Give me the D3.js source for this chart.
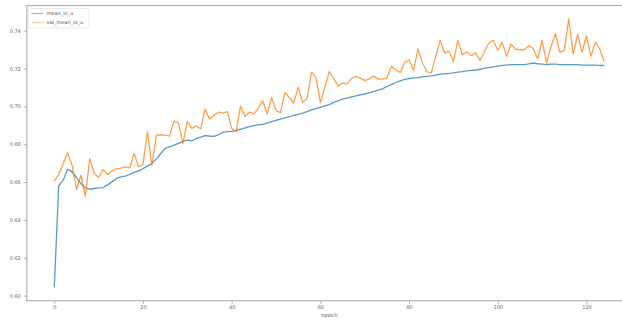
<!DOCTYPE html>
<html>
<head>
<meta charset="utf-8">
<script src="https://cdn.jsdelivr.net/npm/d3@7"></script>
<style>
	body { margin: 0; background: #fff; }
	svg { display: block; font-family: 'DejaVu Sans', sans-serif; }
</style>
</head>
<body>
<div id="chart"></div>
<script>
const seriesNames = ['mean_io_u', 'val_mean_io_u'];
const seriesColors = ['#1f77b4', '#ff7f0e'];

const meanIoU = [
	0.6044, 0.6580, 0.6610, 0.6667, 0.6654, 0.6624, 0.6592, 0.6569, 0.6562, 0.6566,
	0.6569, 0.6571, 0.6585, 0.6601, 0.6619, 0.6627, 0.6631, 0.6640, 0.6651, 0.6659,
	0.6670, 0.6684, 0.6698, 0.6721, 0.6751, 0.6778, 0.6786, 0.6795, 0.6804, 0.6815,
	0.6822, 0.6817, 0.6830, 0.6838, 0.6845, 0.6843, 0.6841, 0.6850, 0.6863, 0.6866,
	0.6868, 0.6873, 0.6879, 0.6886, 0.6893, 0.6898, 0.6902, 0.6905, 0.6912, 0.6919,
	0.6926, 0.6933, 0.6939, 0.6946, 0.6953, 0.6958, 0.6964, 0.6972, 0.6981, 0.6988,
	0.6995, 0.7002, 0.7009, 0.7021, 0.7029, 0.7038, 0.7043, 0.7050, 0.7055, 0.7061,
	0.7066, 0.7071, 0.7078, 0.7086, 0.7092, 0.7105, 0.7115, 0.7126, 0.7135, 0.7142,
	0.7147, 0.7151, 0.7152, 0.7156, 0.7158, 0.7161, 0.7165, 0.7170, 0.7172, 0.7174,
	0.7177, 0.7181, 0.7184, 0.7188, 0.7190, 0.7192, 0.7196, 0.7202, 0.7205, 0.7209,
	0.7213, 0.7216, 0.7218, 0.7220, 0.7220, 0.7221, 0.7221, 0.7225, 0.7229, 0.7225,
	0.7223, 0.7221, 0.7223, 0.7223, 0.7221, 0.7221, 0.7220, 0.7220, 0.7220, 0.7218,
	0.7218, 0.7218, 0.7218, 0.7216, 0.7216
];

const valMeanIoU = [
	0.6605, 0.6640, 0.6698, 0.6755, 0.6689, 0.6561, 0.6636, 0.6525, 0.6725, 0.6645,
	0.6624, 0.6667, 0.6640, 0.6658, 0.6670, 0.6673, 0.6680, 0.6675, 0.6751, 0.6680,
	0.6693, 0.6866, 0.6689, 0.6848, 0.6850, 0.6848, 0.6843, 0.6923, 0.6911, 0.6804,
	0.6920, 0.6884, 0.6896, 0.6880, 0.6985, 0.6933, 0.6951, 0.6969, 0.6964, 0.6972,
	0.6884, 0.6866, 0.7002, 0.6946, 0.6969, 0.6960, 0.6990, 0.7029, 0.6960, 0.7046,
	0.6977, 0.6967, 0.7073, 0.7046, 0.7017, 0.7101, 0.7020, 0.7041, 0.7181, 0.7152,
	0.7020, 0.7099, 0.7183, 0.7148, 0.7107, 0.7123, 0.7119, 0.7147, 0.7158, 0.7149,
	0.7136, 0.7144, 0.7161, 0.7144, 0.7144, 0.7149, 0.7211, 0.7193, 0.7179, 0.7232,
	0.7246, 0.7189, 0.7303, 0.7232, 0.7184, 0.7176, 0.7264, 0.7349, 0.7282, 0.7290,
	0.7237, 0.7349, 0.7273, 0.7287, 0.7267, 0.7283, 0.7241, 0.7290, 0.7335, 0.7349,
	0.7296, 0.7338, 0.7264, 0.7329, 0.7303, 0.7299, 0.7299, 0.7320, 0.7305, 0.7250,
	0.7349, 0.7229, 0.7317, 0.7384, 0.7285, 0.7296, 0.7462, 0.7276, 0.7379, 0.7285,
	0.7373, 0.7264, 0.7340, 0.7303, 0.7237
];

const xTicks = [0, 20, 40, 60, 80, 100, 120];
const yTicks = [0.60, 0.62, 0.64, 0.66, 0.68, 0.70, 0.72, 0.74];
const xLabel = 'epoch';

const width = 622;
const height = 323;
// axes keep going past the right edge, the source image was cropped
const plot = { left: 26.8, right: 631.7, top: 5.5, bottom: 300.7 };

const series = [meanIoU, valMeanIoU].map((values, i) => ({
	name: seriesNames[i],
	color: seriesColors[i],
	values: values.map((v, epoch) => ({ epoch, v }))
}));

// matplotlib style 5% margins
const n = meanIoU.length;
const xPad = (n - 1) * 0.05;
const allValues = meanIoU.concat(valMeanIoU);
const yMin = d3.min(allValues);
const yMax = d3.max(allValues);
const yPad = (yMax - yMin) * 0.05;

const xScale = d3.scaleLinear().domain([-xPad, n - 1 + xPad]).range([plot.left, plot.right]);
const yScale = d3.scaleLinear().domain([yMin - yPad, yMax + yPad]).range([plot.bottom, plot.top]);

const svg = d3
	.select('#chart')
	.append('svg')
	.attr('width', width)
	.attr('height', height);

// frame
svg
	.append('rect')
	.attr('x', plot.left)
	.attr('y', plot.top)
	.attr('width', plot.right - plot.left)
	.attr('height', plot.bottom - plot.top)
	.attr('fill', 'none')
	.attr('stroke', '#b4b4b4')
	.attr('stroke-width', 1.2);

const xAxis = d3.axisBottom(xScale).tickValues(xTicks).tickSize(3).tickPadding(2).tickFormat(d3.format('d'));
const yAxis = d3.axisLeft(yScale).tickValues(yTicks).tickSize(3).tickPadding(3).tickFormat(d3.format('.2f'));

const gx = svg.append('g').attr('transform', `translate(0,${plot.bottom})`).call(xAxis);
const gy = svg.append('g').attr('transform', `translate(${plot.left},0)`).call(yAxis);

[gx, gy].forEach((g) => {
	g.select('.domain').remove();
	g.selectAll('.tick line').attr('stroke', '#9a9a9a').attr('stroke-width', 0.8);
	g.selectAll('.tick text')
		.attr('fill', '#666')
		.style('font-size', '5px')
		.style('font-family', "'DejaVu Sans', sans-serif");
});

svg
	.append('text')
	.attr('x', (plot.left + plot.right) / 2)
	.attr('y', 317)
	.attr('text-anchor', 'middle')
	.attr('fill', '#666')
	.style('font-size', '5.5px')
	.text(xLabel);

const line = d3
	.line()
	.x((d) => xScale(d.epoch))
	.y((d) => yScale(d.v));

svg
	.selectAll('.series')
	.data(series)
	.enter()
	.append('path')
	.attr('class', 'series')
	.attr('fill', 'none')
	.attr('stroke', (d) => d.color)
	.attr('stroke-opacity', 0.75)
	.attr('stroke-width', 1.3)
	.attr('stroke-linejoin', 'round')
	.attr('d', (d) => line(d.values));

// legend
const legend = svg.append('g').attr('transform', 'translate(28.5,8.5)');
legend
	.append('rect')
	.attr('width', 60.5)
	.attr('height', 19.5)
	.attr('rx', 1.5)
	.attr('fill', '#fff')
	.attr('fill-opacity', 0.8)
	.attr('stroke', '#e4e4e4')
	.attr('stroke-width', 0.8);

const items = legend
	.selectAll('.item')
	.data(series)
	.enter()
	.append('g')
	.attr('class', 'item')
	.attr('transform', (d, i) => `translate(0,${5 + i * 9})`);

items
	.append('line')
	.attr('x1', 3)
	.attr('x2', 15)
	.attr('stroke', (d) => d.color)
	.attr('stroke-opacity', 0.45)
	.attr('stroke-width', 1.3);

items
	.append('text')
	.attr('x', 18)
	.attr('dy', '0.35em')
	.attr('fill', '#555')
	.style('font-size', '5px')
	.text((d) => d.name);
</script>
</body>
</html>
